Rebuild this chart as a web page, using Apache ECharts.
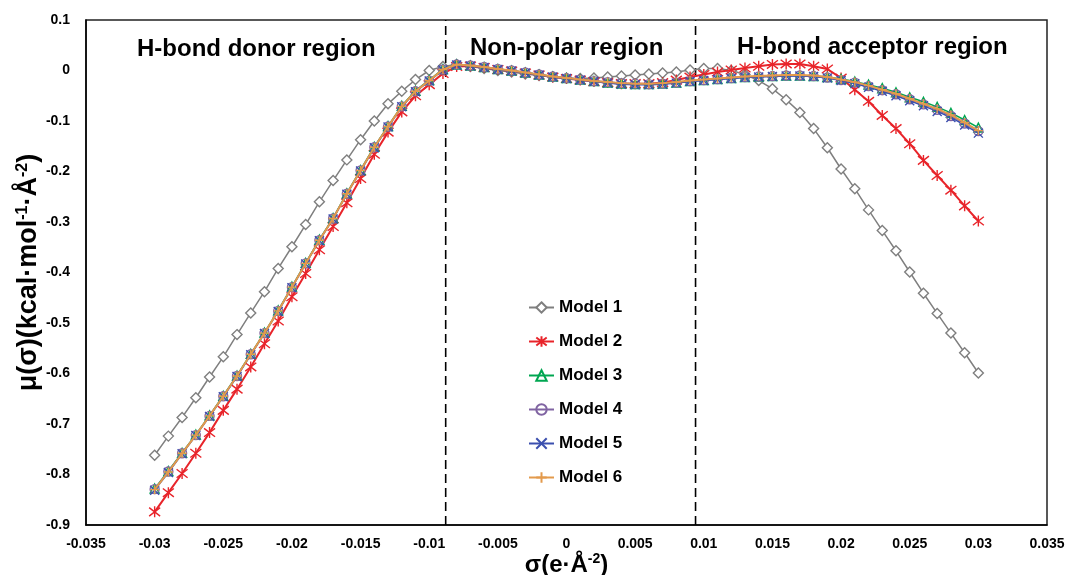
<!DOCTYPE html>
<html>
<head>
<meta charset="utf-8">
<script src="https://cdn.jsdelivr.net/npm/echarts@6/dist/echarts.min.js"></script>
<style>html,body{margin:0;padding:0;background:#fff}#c{width:1069px;height:575px}</style>
</head>
<body>
<div id="c"></div>
<script>
const sigma = [-0.030,-0.029,-0.028,-0.027,-0.026,-0.025,-0.024,-0.023,-0.022,-0.021,-0.020,-0.019,-0.018,-0.017,-0.016,-0.015,-0.014,-0.013,-0.012,-0.011,-0.010,-0.009,-0.008,-0.007,-0.006,-0.005,-0.004,-0.003,-0.002,-0.001,0.000,0.001,0.002,0.003,0.004,0.005,0.006,0.007,0.008,0.009,0.010,0.011,0.012,0.013,0.014,0.015,0.016,0.017,0.018,0.019,0.020,0.021,0.022,0.023,0.024,0.025,0.026,0.027,0.028,0.029,0.030];

const model1 = [-0.762,-0.724,-0.687,-0.648,-0.607,-0.567,-0.523,-0.480,-0.438,-0.392,-0.349,-0.305,-0.260,-0.218,-0.177,-0.137,-0.100,-0.066,-0.041,-0.018,0.000,0.008,0.012,
  0.008,0.004,0.000,-0.003,-0.007,-0.010,-0.013,-0.015,-0.016,-0.015,-0.013,-0.011,-0.009,-0.007,-0.005,-0.003,0.001,0.004,0.004,0.000,-0.008,-0.020,-0.036,-0.058,-0.083,-0.115,-0.153,-0.195,-0.234,-0.276,-0.317,-0.357,-0.399,-0.441,-0.481,-0.520,-0.559,-0.599];
const model2 = [-0.874,-0.836,-0.798,-0.758,-0.717,-0.673,-0.631,-0.587,-0.541,-0.496,-0.448,-0.402,-0.355,-0.309,-0.262,-0.214,-0.166,-0.122,-0.082,-0.050,-0.028,-0.006,0.008,
  0.009,0.006,0.002,-0.001,-0.005,-0.009,-0.013,-0.016,-0.019,-0.022,-0.024,-0.026,-0.026,-0.026,-0.024,-0.019,-0.013,-0.008,-0.003,0.001,0.005,0.0085,0.012,0.013,0.013,0.0085,0.003,-0.015,-0.038,-0.061,-0.089,-0.115,-0.145,-0.178,-0.208,-0.237,-0.268,-0.298];
const model3 = [-0.828,-0.793,-0.757,-0.721,-0.683,-0.644,-0.604,-0.561,-0.519,-0.475,-0.428,-0.381,-0.335,-0.292,-0.243,-0.197,-0.151,-0.110,-0.070,-0.040,-0.019,0.003,0.012,
  0.010,0.007,0.003,0.000,-0.004,-0.008,-0.012,-0.015,-0.018,-0.021,-0.024,-0.026,-0.027,-0.027,-0.026,-0.024,-0.021,-0.019,-0.017,-0.015,-0.013,-0.012,-0.011,-0.010,-0.010,-0.011,-0.013,-0.017,-0.022,-0.028,-0.035,-0.043,-0.053,-0.062,-0.072,-0.084,-0.098,-0.113];
const model4 = [-0.829,-0.794,-0.758,-0.722,-0.684,-0.645,-0.605,-0.562,-0.520,-0.476,-0.429,-0.382,-0.336,-0.293,-0.244,-0.198,-0.152,-0.111,-0.071,-0.041,-0.020,0.002,0.012,
  0.010,0.007,0.003,0.000,-0.004,-0.008,-0.012,-0.015,-0.018,-0.021,-0.023,-0.025,-0.026,-0.027,-0.026,-0.024,-0.021,-0.019,-0.017,-0.015,-0.013,-0.012,-0.011,-0.010,-0.010,-0.011,-0.014,-0.019,-0.024,-0.031,-0.039,-0.047,-0.057,-0.067,-0.078,-0.090,-0.105,-0.120];
const model5 = [-0.831,-0.796,-0.759,-0.723,-0.685,-0.646,-0.606,-0.563,-0.521,-0.477,-0.430,-0.383,-0.337,-0.294,-0.245,-0.199,-0.153,-0.112,-0.072,-0.042,-0.021,0.001,0.011,
  0.009,0.006,0.002,-0.001,-0.005,-0.009,-0.013,-0.016,-0.019,-0.022,-0.025,-0.027,-0.028,-0.028,-0.027,-0.025,-0.022,-0.020,-0.018,-0.016,-0.014,-0.013,-0.012,-0.011,-0.011,-0.012,-0.015,-0.020,-0.026,-0.033,-0.041,-0.050,-0.060,-0.070,-0.081,-0.093,-0.108,-0.124];
const model6 = [-0.830,-0.795,-0.758,-0.722,-0.684,-0.645,-0.605,-0.562,-0.520,-0.476,-0.429,-0.382,-0.336,-0.293,-0.244,-0.198,-0.152,-0.111,-0.071,-0.041,-0.020,0.002,0.012,
  0.010,0.007,0.003,0.000,-0.004,-0.008,-0.012,-0.015,-0.018,-0.021,-0.023,-0.025,-0.026,-0.026,-0.025,-0.023,-0.020,-0.018,-0.016,-0.014,-0.012,-0.011,-0.010,-0.009,-0.009,-0.010,-0.013,-0.018,-0.023,-0.030,-0.038,-0.046,-0.056,-0.066,-0.076,-0.088,-0.103,-0.119];

const seriesNames = ['Model 1','Model 2','Model 3','Model 4','Model 5','Model 6'];
const regionBounds = [-0.0088, 0.0094];
const regionLabels = ['H-bond donor region','Non-polar region','H-bond acceptor region'];
const xTicks = {min:-0.035, max:0.035, interval:0.005};
const yTicks = {min:-0.9, max:0.1, interval:0.1};

const FONT = '"Liberation Sans", Arial, sans-serif';
const pair = arr => sigma.map((s,i)=>[s,arr[i]]);
const fmt = v => String(+(+v).toFixed(3));

const styles = [
  {color:'#7f7f7f', fill:'#ffffff', symbol:'diamond', size:10, lw:1.5},
  {color:'#e8242a', fill:'#e8242a', symbol:'path://M0,0L10,10M10,0L0,10M5,-1.5L5,11.5', size:11, lw:2},
  {color:'#00a651', fill:'none', symbol:'triangle', size:9, lw:1.5},
  {color:'#8064a2', fill:'none', symbol:'circle', size:9, lw:1.5},
  {color:'#3b4fae', fill:'#3b4fae', symbol:'path://M0,0L10,10M10,0L0,10', size:9, lw:1.5},
  {color:'#e39a4c', fill:'#e39a4c', symbol:'path://M5,0L5,10M0,5L10,5', size:9, lw:2}
];
const dataSets = [model1, model2, model3, model4, model5, model6];

const series = dataSets.map((d,i)=>{
  const st = styles[i];
  return {
    name: seriesNames[i], type:'line', data: pair(d),
    symbol: st.symbol, symbolSize: st.size, showAllSymbol:true,
    lineStyle:{color:st.color, width:st.lw},
    itemStyle:{color:st.fill, borderColor:st.color, borderWidth:1.4},
    z: 3+i
  };
});
regionBounds.forEach((b,k)=>{
  series.push({
    name:'boundary'+k, type:'line', silent:true, symbol:'none', z:2,
    data:[[b, yTicks.min],[b, yTicks.max]],
    lineStyle:{color:'#000', type:[9,5], width:1.6}
  });
});

const chart = echarts.init(document.getElementById('c'));
chart.setOption({
  animation:false,
  backgroundColor:'#fff',
  textStyle:{fontFamily:FONT},
  grid:{left:86, right:22, top:20, bottom:50, containLabel:false, outerBoundsMode:'none',
        show:true, borderColor:'#222', borderWidth:1.5, backgroundColor:'transparent'},
  legend:{
    orient:'vertical', left:523, top:294, itemGap:17, itemWidth:25, itemHeight:13,
    data: seriesNames,
    textStyle:{fontFamily:FONT, fontWeight:'bold', fontSize:17, color:'#000'}
  },
  xAxis:{
    type:'value', min:xTicks.min, max:xTicks.max, interval:xTicks.interval,
    axisLine:{onZero:false, lineStyle:{color:'#000', width:1.5}},
    axisTick:{show:false}, splitLine:{show:false},
    axisLabel:{formatter:fmt, color:'#000', fontWeight:'bold', fontSize:14, fontFamily:FONT, margin:12},
    name:'{a|σ(e·Å}{s|-2}{a|)}', nameLocation:'middle', nameGap:27, nameMoveOverlap:false,
    nameTextStyle:{rich:{
      a:{fontFamily:FONT, fontWeight:'bold', fontSize:24, color:'#000', lineHeight:26},
      s:{fontFamily:FONT, fontWeight:'bold', fontSize:14, color:'#000', verticalAlign:'top', lineHeight:26}
    }}
  },
  yAxis:{
    type:'value', min:yTicks.min, max:yTicks.max, interval:yTicks.interval,
    axisLine:{onZero:false, lineStyle:{color:'#000', width:1.5}},
    axisTick:{show:false}, splitLine:{show:false},
    axisLabel:{formatter:fmt, color:'#000', fontWeight:'bold', fontSize:14, fontFamily:FONT, margin:16},
    name:'{a|μ(σ)(kcal·mol}{s|-1}{a|·Å}{s|-2}{a|)}', nameLocation:'middle', nameGap:44, nameMoveOverlap:false,
    nameTextStyle:{rich:{
      a:{fontFamily:FONT, fontWeight:'bold', fontSize:27, color:'#000', lineHeight:27},
      s:{fontFamily:FONT, fontWeight:'bold', fontSize:16, color:'#000', verticalAlign:'top', lineHeight:27}
    }}
  },
  graphic:[
    {type:'text', left:137, top:37, style:{text:regionLabels[0], font:'bold 24px '+FONT, fill:'#000'}},
    {type:'text', left:470, top:36, style:{text:regionLabels[1], font:'bold 24px '+FONT, fill:'#000'}},
    {type:'text', left:737, top:35, style:{text:regionLabels[2], font:'bold 24px '+FONT, fill:'#000'}}
  ],
  series: series
});
</script>
</body>
</html>
